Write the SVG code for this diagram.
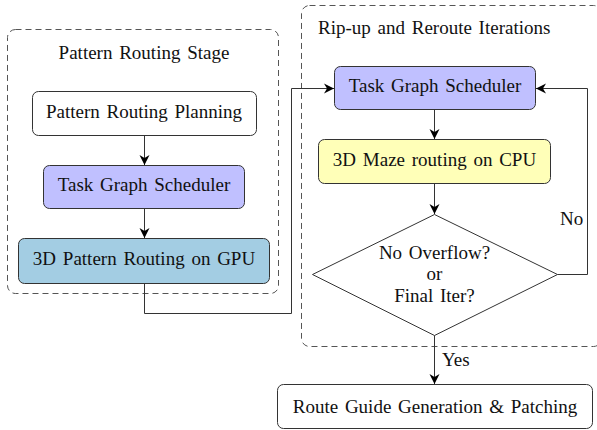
<svg xmlns="http://www.w3.org/2000/svg" width="597" height="430" viewBox="0 0 597 430">
<defs>
<style>
.frame{fill:none;stroke:#555;stroke-width:1;stroke-dasharray:6,4}
.box{stroke:#333;stroke-width:1}
.t{font-size:19px;fill:#111;word-spacing:2px}
.c{text-anchor:middle}
.edge{fill:none;stroke:#333;stroke-width:1}
</style>
<marker id="arr" viewBox="-11 -6 12 12" refX="0" refY="0" markerWidth="12" markerHeight="12" markerUnits="userSpaceOnUse" orient="auto">
<path d="M0,0 L-10,-5 L-7,0 L-10,5 Z" fill="#000"/>
</marker>
</defs>
<rect x="0" y="0" width="597" height="430" fill="#fff"/>

<g id="stage-pattern">
<rect class="frame" x="7.5" y="29.5" width="271" height="264" rx="8"/>
<text class="t c" font-family="Liberation Serif" x="144" y="59">Pattern Routing Stage</text>
</g>
<g id="stage-rrr">
<rect class="frame" x="301.5" y="5.5" width="300" height="341" rx="8"/>
<text class="t" font-family="Liberation Serif" x="318" y="34">Rip-up and Reroute Iterations</text>
</g>

<g id="n-prp">
<rect class="box" x="32.5" y="91.5" width="224" height="44" rx="6" fill="#fff"/>
<text class="t c" font-family="Liberation Serif" x="144" y="118">Pattern Routing Planning</text>
</g>
<g id="n-tgs1">
<rect class="box" x="43.5" y="165.5" width="201" height="43" rx="6" fill="#c0c0ff"/>
<text class="t c" font-family="Liberation Serif" x="144" y="191">Task Graph Scheduler</text>
</g>
<g id="n-gpu">
<rect class="box" x="18.5" y="238.5" width="251" height="45" rx="6" fill="#a3cde3"/>
<text class="t c" font-family="Liberation Serif" x="144" y="265">3D Pattern Routing on GPU</text>
</g>
<g id="n-tgs2">
<rect class="box" x="334.5" y="66.5" width="201" height="43" rx="6" fill="#c0c0ff"/>
<text class="t c" font-family="Liberation Serif" x="435" y="92">Task Graph Scheduler</text>
</g>
<g id="n-maze">
<rect class="box" x="318.5" y="139.5" width="232" height="44" rx="6" fill="#ffffb8"/>
<text class="t c" font-family="Liberation Serif" x="434.5" y="166">3D Maze routing on CPU</text>
</g>
<g id="n-dec">
<polygon class="box" points="434.5,214.5 557.5,274.5 434.5,335.5 312.5,274.5" fill="#fff"/>
<text class="t c" font-family="Liberation Serif" x="434.5" y="259">No Overflow?</text>
<text class="t c" font-family="Liberation Serif" x="434.5" y="280">or</text>
<text class="t c" font-family="Liberation Serif" x="434.5" y="302">Final Iter?</text>
</g>
<g id="n-route">
<rect class="box" x="277.5" y="384.5" width="315" height="44" rx="6" fill="#fff"/>
<text class="t c" font-family="Liberation Serif" x="435" y="413">Route Guide Generation &amp; Patching</text>
</g>

<g id="connectors">
<path class="edge" d="M144.5,135.5 V165" marker-end="url(#arr)"/>
<path class="edge" d="M144.5,208.5 V238" marker-end="url(#arr)"/>
<path class="edge" d="M144.5,283.5 V313.5 H291.5 V88.5 H334" marker-end="url(#arr)"/>
<path class="edge" d="M434.5,109.5 V139" marker-end="url(#arr)"/>
<path class="edge" d="M434.5,183.5 V214" marker-end="url(#arr)"/>
<path class="edge" d="M557.5,274.5 H587.5 V88.5 H536" marker-end="url(#arr)"/>
<path class="edge" d="M434.5,335.5 V384" marker-end="url(#arr)"/>
<text class="t" font-family="Liberation Serif" x="560" y="225">No</text>
<text class="t" font-family="Liberation Serif" x="442" y="366">Yes</text>
</g>
</svg>
